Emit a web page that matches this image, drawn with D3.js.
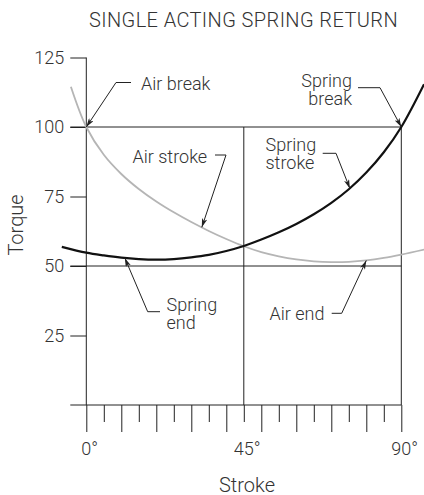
<!DOCTYPE html>
<html><head><meta charset="utf-8">
<script src="https://cdn.jsdelivr.net/npm/d3@7"></script>
<style>
html,body{margin:0;padding:0;background:#fff;}
svg{display:block;font-family:Roboto,"Open Sans",sans-serif;font-weight:300;}
</style></head><body>
<svg id="chart" width="424" height="495"></svg>
<script>
// ---- data ----
const springStroke = [-7, 0, 5, 10, 15, 20, 25, 30, 35, 40, 45, 50, 55, 60, 65, 70, 75, 80, 85, 90, 96.5];
const springTorque = [56.9, 54.8, 53.8, 53.0, 52.5, 52.3, 52.5, 53.1, 54.0, 55.4, 57.2, 59.5, 62.1, 65.1, 68.6, 72.7, 77.6, 83.6, 90.9, 100, 115.4];
const airStroke = [-4.4, 0, 5, 10, 15, 20, 25, 30, 35, 40, 45, 50, 55, 60, 65, 70, 75, 80, 85, 90, 96.5];
const airTorque = [114.5, 100, 90, 83.1, 77.7, 73.2, 69.3, 65.8, 62.6, 59.7, 57.1, 55.0, 53.5, 52.4, 51.7, 51.4, 51.5, 52.0, 52.9, 54.1, 55.9];
const torqueTicks = [25, 50, 75, 100, 125];
const strokeTicks = [0,5,10,15,20,25,30,35,40,45,50,55,60,65,70,75,80,85,90];
const strokeLabelValues = [0, 45, 90];
const strokeLabels = ["0", "45", "90"];
const gridTorque = [50, 100];
const gridStroke = [45, 90];
const titleText = "SINGLE ACTING SPRING RETURN";
const yTitle = "Torque";
const xTitle = "Stroke";
const annotations = [
  {lines:["Air break"], tip:[0, 100]},
  {lines:["Spring","break"], tip:[90, 100]},
  {lines:["Air stroke"], tip:[33, 63.9]},
  {lines:["Spring","stroke"], tip:[75.3, 77.9]},
  {lines:["Spring","end"], tip:[11, 52.9]},
  {lines:["Air end"], tip:[80, 52.0]}
];
// ---- layout ----
const annLayout = [
  {anchor:"start", tx:141, ty:90, leader:[[131,82.5],[116,82.5]]},
  {anchor:"end", tx:352, ty:87.3, leader:[[358,87.7],[380,87.7]]},
  {anchor:"start", tx:132.5, ty:162.7, leader:[[215,155],[226,155]]},
  {anchor:"start", tx:265.5, ty:150.5, leader:[[322.7,153.3],[336,153.3]]},
  {anchor:"start", tx:166.5, ty:311, leader:[[160,311.7],[147.7,311.7]]},
  {anchor:"start", tx:269.5, ty:319.5, leader:[[331.7,313.3],[341.7,313.3]]}
];

const svg = d3.select("#chart");
const x = d3.scaleLinear().domain([0, 90]).range([86.3, 401.3]);
const y = d3.scaleLinear().domain([0, 125]).range([405, 57.5]);
const lineCol = "#222", textCol = "#333";
const tickLen = 16;

svg.append("defs").append("marker")
  .attr("id","arr").attr("viewBox","0 0 10 6").attr("refX",10).attr("refY",3)
  .attr("markerWidth",9).attr("markerHeight",5.4).attr("markerUnits","userSpaceOnUse")
  .attr("orient","auto")
  .append("path").attr("d","M0,0 L10,3 L0,6 L2.5,3 Z").attr("fill",lineCol);

// title
svg.append("text").attr("x", 243.5).attr("y", 27.3).attr("text-anchor","middle")
  .attr("font-size", 20).attr("letter-spacing", 0.4).attr("fill", textCol).text(titleText);

// grid
const g = svg.append("g").attr("stroke", lineCol).attr("stroke-width", 1).attr("fill","none");
gridTorque.forEach(v => g.append("line").attr("x1", x(0) - tickLen).attr("x2", x(90)).attr("y1", y(v)).attr("y2", y(v)));
gridStroke.forEach(v => g.append("line").attr("x1", x(v)).attr("x2", x(v)).attr("y1", y(100)).attr("y2", y(0)));
g.append("line").attr("x1", x(0)).attr("x2", x(0)).attr("y1", y(125)).attr("y2", y(0));
g.append("line").attr("x1", x(0) - tickLen).attr("x2", x(90)).attr("y1", y(0)).attr("y2", y(0));

// y axis
const yAx = svg.append("g").attr("transform", `translate(${x(0)},0)`)
  .call(d3.axisLeft(y).tickValues(torqueTicks).tickSize(tickLen).tickPadding(6));
yAx.select(".domain").remove();
yAx.attr("font-family", null).attr("font-size", null);
yAx.selectAll(".tick line").attr("stroke", lineCol);
yAx.selectAll(".tick text").attr("font-size", 18).attr("fill", textCol);

// x axis
const xAx = svg.append("g").attr("transform", `translate(0,${y(0)})`)
  .call(d3.axisBottom(x).tickValues(strokeTicks).tickSize(0).tickFormat(() => ""));
xAx.select(".domain").remove();
xAx.attr("font-family", null).attr("font-size", null);
xAx.selectAll(".tick line").attr("stroke", lineCol)
  .attr("y2", d => (d % 10 === 0 || d === 90) ? 27 : 17);
xAx.selectAll(".tick text").remove();
strokeLabelValues.forEach((v, i) => {
  const t = svg.append("text").attr("y", 455).attr("font-size", 18).attr("fill", textCol);
  t.append("tspan").text(strokeLabels[i]);
  t.append("tspan").text("°");
  const w = t.node().getSubStringLength(0, strokeLabels[i].length);
  t.attr("x", x(v) - w / 2);
});

// axis titles
svg.append("text").attr("transform", "translate(22.5,225) rotate(-90)").attr("text-anchor","middle")
  .attr("font-size", 20).attr("fill", textCol).text(yTitle);
svg.append("text").attr("x", 247).attr("y", 491.5).attr("text-anchor","middle")
  .attr("font-size", 20).attr("fill", textCol).text(xTitle);

// curves
const line = d3.line().curve(d3.curveCatmullRom.alpha(0.5)).x(d => x(d[0])).y(d => y(d[1]));
svg.append("path").datum(airStroke.map((s, i) => [s, airTorque[i]]))
  .attr("d", line).attr("fill","none").attr("stroke","#b5b5b5").attr("stroke-width",1.8);
svg.append("path").datum(springStroke.map((s, i) => [s, springTorque[i]]))
  .attr("d", line).attr("fill","none").attr("stroke","#111").attr("stroke-width",2.2);

// annotations
annotations.forEach((a, i) => {
  const L = annLayout[i];
  const t = svg.append("text").attr("font-size", 18).attr("fill", textCol).attr("text-anchor", L.anchor);
  a.lines.forEach((ln, j) => t.append("tspan").attr("x", L.tx).attr("y", L.ty + j * 18).text(ln));
  const pts = L.leader.concat([[x(a.tip[0]), y(a.tip[1])]]);
  svg.append("path").attr("d", d3.line()(pts)).attr("fill","none").attr("stroke", lineCol)
    .attr("stroke-width", 1).attr("marker-end","url(#arr)");
});
</script>
</body></html>
